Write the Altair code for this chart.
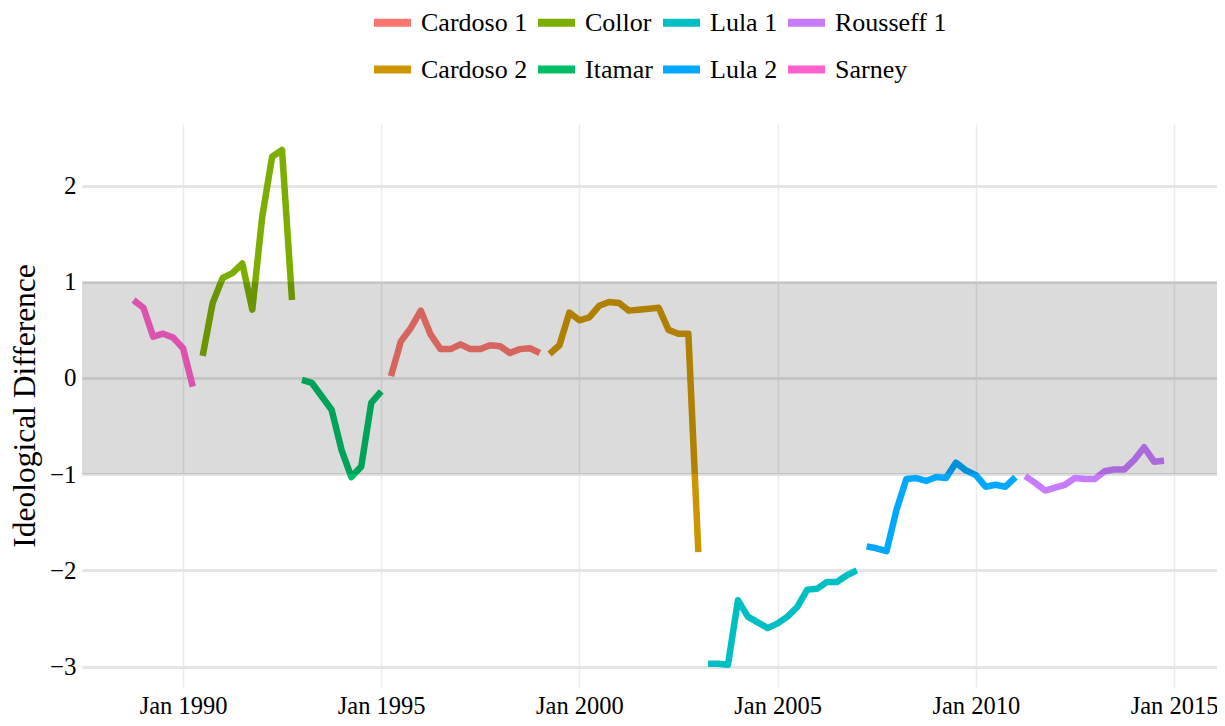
import altair as alt
import pandas as pd

FONT = "'Liberation Serif', serif"

presidents = ["Sarney", "Collor", "Itamar", "Cardoso 1", "Cardoso 2", "Lula 1", "Lula 2", "Rousseff 1"]
starts = ["1988-10-01", "1990-07-01", "1993-01-01", "1995-04-01", "1999-04-01",
          "2003-04-01", "2007-04-01", "2011-04-01"]

sarney = [0.81, 0.73, 0.43, 0.46, 0.42, 0.31, -0.09]
collor = [0.23, 0.78, 1.04, 1.09, 1.19, 0.71, 1.68, 2.30, 2.37, 0.81]
itamar = [-0.02, -0.05, -0.19, -0.33, -0.75, -1.03, -0.92, -0.26, -0.14]
cardoso1 = [0.02, 0.38, 0.52, 0.70, 0.45, 0.30, 0.30, 0.35, 0.30, 0.30, 0.34, 0.33, 0.26, 0.30, 0.31, 0.26]
cardoso2 = [0.25, 0.34, 0.68, 0.60, 0.63, 0.75, 0.79, 0.78, 0.70, 0.71, 0.72, 0.73, 0.50, 0.46, 0.46, -1.81]
lula1 = [-2.97, -2.97, -2.98, -2.31, -2.48, -2.54, -2.60, -2.55, -2.48, -2.38, -2.20, -2.19, -2.12, -2.12, -2.05, -2.00]
lula2 = [-1.75, -1.77, -1.80, -1.37, -1.05, -1.04, -1.07, -1.03, -1.04, -0.88, -0.96, -1.01, -1.13, -1.11, -1.13, -1.03]
rousseff1 = [-1.02, -1.09, -1.17, -1.14, -1.11, -1.04, -1.05, -1.05, -0.97, -0.95, -0.95, -0.85, -0.72, -0.87, -0.86]

series = [sarney, collor, itamar, cardoso1, cardoso2, lula1, lula2, rousseff1]

legend_order = ["Cardoso 1", "Cardoso 2", "Collor", "Itamar", "Lula 1", "Lula 2", "Rousseff 1", "Sarney"]
legend_colors = ["#F8766D", "#CD9600", "#7CAE00", "#00BE67", "#00BFC4", "#00A9FF", "#C77CFF", "#FF61CC"]

tick_years = [1990, 1995, 2000, 2005, 2010, 2015]
y_ticks = [-3, -2, -1, 0, 1, 2]
band_lo, band_hi = [-1], [1]

rows = []
for name, start, vals in zip(presidents, starts, series):
    dates = pd.date_range(start, periods=len(vals), freq="QS")
    for d, v in zip(dates, vals):
        rows.append({"date": d.strftime("%Y-%m-%d"), "value": v, "president": name})
df = pd.DataFrame(rows)
band_df = pd.DataFrame({"lo": band_lo, "hi": band_hi})

W, H = 1135, 563

x_scale = alt.Scale(
    type="utc",
    domain=[alt.DateTime(year=1987, month=6, date=15, utc=True),
            alt.DateTime(year=2016, month=2, date=1, utc=True)],
)
y_scale = alt.Scale(domain=[-3.212, 2.640], nice=False, zero=False)

x_axis = alt.Axis(
    title=None, format="%b %Y",
    values=[alt.DateTime(year=y, month=1, date=1, utc=True) for y in tick_years],
    grid=True, gridColor="#EBEBEB", gridWidth=1.5,
    ticks=False, domain=False, labelFont=FONT, labelFontSize=24.5,
    labelColor="black", labelPadding=7, labelFlush=False,
)
y_axis = alt.Axis(
    title="Ideological Difference", values=y_ticks, format="~g",
    grid=True, gridColor="#E5E5E5", gridWidth=3,
    ticks=False, domain=False, labelFont=FONT, labelFontSize=25,
    labelColor="black", labelPadding=6,
    titleFont=FONT, titleFontSize=31.5, titleFontWeight="normal",
    titleColor="black", titlePadding=8,
)

lines = alt.Chart(df).mark_line(
    strokeWidth=6.5, strokeCap="butt", strokeJoin="round", clip=True
).encode(
    x=alt.X("date:T", scale=x_scale, axis=x_axis),
    y=alt.Y("value:Q", scale=y_scale, axis=y_axis),
    color=alt.Color(
        "president:N",
        scale=alt.Scale(domain=legend_order, range=legend_colors),
        legend=alt.Legend(
            title=None, orient="none", legendX=288, legendY=-124, columns=4,
            symbolType="stroke", symbolSize=1369, symbolStrokeWidth=8,
            labelFont=FONT, labelFontSize=26, labelColor="black",
            labelOffset=6, columnPadding=-6, rowPadding=8, gridAlign="each",
        ),
    ),
    detail="president:N",
)

band = alt.Chart(band_df).mark_rect(color="black", opacity=0.14).encode(
    x=alt.value(0), x2=alt.value(W),
    y=alt.Y("hi:Q", scale=y_scale), y2="lo:Q",
)

chart = alt.layer(lines, band).properties(
    width=W, height=H,
    padding={"left": 74, "top": 116, "right": 0, "bottom": 31},
    autosize=alt.AutoSizeParams(type="none"),
).configure(font=FONT).configure_view(stroke=None)

chart.save("out.html", embed_options={"renderer": "svg", "actions": False})
